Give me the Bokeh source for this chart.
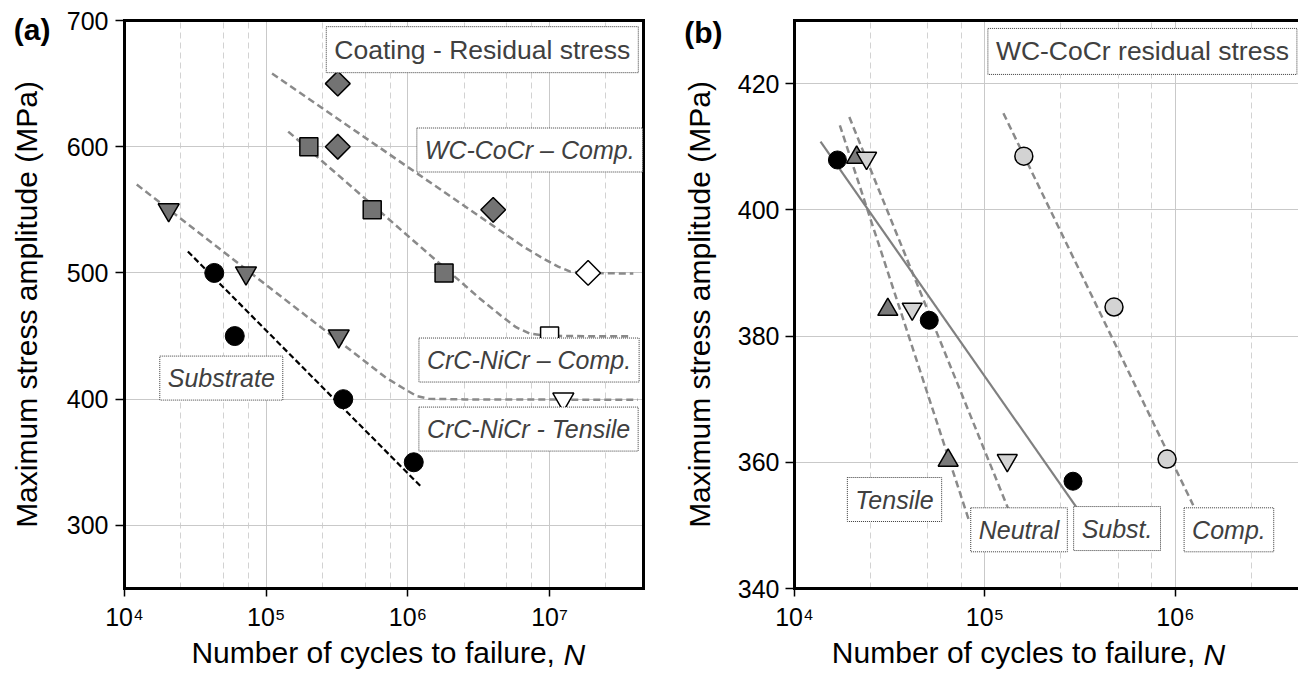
import math
from bokeh.plotting import figure
from bokeh.models import LinearAxis, FixedTicker, Label, Range1d
from bokeh.layouts import row
from bokeh.embed import file_html
from bokeh.resources import INLINE

# ---------------- panel (a) data ----------------
a_x_ticks = [1e4, 1e5, 1e6, 1e7]
a_x_tick_labels = ["10⁴", "10⁵", "10⁶", "10⁷"]
a_y_ticks = [300, 400, 500, 600, 700]
a_minor_grid = [2.5e4, 5e4, 7.5e4, 2.5e5, 5e5, 7.5e5, 2.5e6, 5e6, 7.5e6, 2.5e7]

a_sub_N = [4.3e4, 6.0e4, 3.5e5, 1.1e6]
a_sub_S = [500, 450, 400, 350]
a_sub_fit_N = [2.8e4, 1.23e6]
a_sub_fit_S = [517, 331]

a_tens_N = [2.05e4, 7.2e4, 3.25e5]
a_tens_S = [550, 500, 450]
a_tens_run_N = [1.25e7]
a_tens_run_S = [400]
a_tens_fit_N = [1.22e4, 7.0e5, 9.5e5, 1.15e6, 1.4e6, 2.5e6, 4.2e7]
a_tens_fit_S = [570, 417, 408, 402.5, 400.3, 399.8, 399.5]

a_crc_N = [2.0e5, 5.6e5, 1.8e6]
a_crc_S = [600, 550, 500]
a_crc_run_N = [1.0e7]
a_crc_run_S = [450]
a_crc_fit_N = [1.43e5, 3.2e6, 4.5e6, 5.8e6, 7.2e6, 9.0e6, 1.3e7, 3.8e7]
a_crc_fit_S = [612, 480, 466.5, 457, 452, 450.5, 450, 449.8]

a_wc_N = [3.2e5, 3.2e5, 4.0e6]
a_wc_S = [650, 600, 550]
a_wc_run_N = [1.87e7]
a_wc_run_S = [500]
a_wc_fit_N = [1.1e5, 6.5e6, 9.0e6, 1.15e7, 1.4e7, 1.8e7, 3.9e7]
a_wc_fit_S = [658, 521, 511.5, 505, 501, 500, 499.5]

# ---------------- panel (b) data ----------------
b_x_ticks = [1e4, 1e5, 1e6]
b_x_tick_labels = ["10⁴", "10⁵", "10⁶"]
b_y_ticks = [340, 360, 380, 400, 420]
b_minor_grid = [2.5e4, 5e4, 7.5e4, 2.5e5, 5e5, 7.5e5, 2.5e6]

b_sub_N = [1.68e4, 5.1e4, 2.9e5]
b_sub_S = [407.9, 382.5, 357.0]
b_sub_fit_N = [1.37e4, 3.2e5]
b_sub_fit_S = [410.8, 351.8]

b_tens_N = [2.12e4, 3.09e4, 6.41e4]
b_tens_S = [408.3, 384.2, 360.3]
b_tens_fit_N = [1.73e4, 8.2e4]
b_tens_fit_S = [413.4, 351.0]

b_neut_N = [2.39e4, 4.15e4, 1.31e5]
b_neut_S = [408.2, 384.3, 360.3]
b_neut_fit_N = [1.94e4, 1.36e5]
b_neut_fit_S = [414.7, 351.8]

b_comp_N = [1.6e5, 4.76e5, 9.04e5]
b_comp_S = [408.5, 384.6, 360.5]
b_comp_fit_N = [1.25e5, 1.24e6]
b_comp_fit_S = [415.3, 353.2]

# ---------------- styles ----------------
FONT = "Liberation Sans"
DARK = "#737373"
LIGHT = "#d3d3d3"
FITGRAY = "#8a8a8a"
TXT = "#404040"
XTITLE_MAIN = "Number of cycles to failure,"
XTITLE_VAR = "N"
YTITLE = "Maximum stress amplitude (MPa)"


def bare_axis(**kw):
    base = dict(axis_line_color=None, major_tick_line_color=None, minor_tick_line_color=None,
                major_tick_out=0, major_tick_in=0, minor_tick_out=0, minor_tick_in=0,
                major_label_text_font=FONT, major_label_text_color="black")
    base.update(kw)
    return LinearAxis(**base)


def frame_axis():
    return LinearAxis(ticker=FixedTicker(ticks=[]), axis_line_width=3, axis_line_cap="square",
                      major_tick_out=0, major_tick_in=0, minor_tick_out=0, minor_tick_in=0,
                      major_label_text_font_size="0px")


def make_fig(width, x_end, y0, y1, left, right, ticks_x, labels_x, ticks_y, minor, ylab_standoff):
    p = figure(width=width, height=673, x_axis_type="log",
               x_range=Range1d(1e4, x_end), y_range=Range1d(y0, y1),
               output_backend="svg", toolbar_location=None,
               min_border_left=left, min_border_right=right,
               min_border_top=20, min_border_bottom=85)
    p.outline_line_color = None
    p.background_fill_color = "white"
    p.border_fill_color = "white"
    xa = p.xaxis[0]
    xa.ticker = FixedTicker(ticks=ticks_x)
    xa.major_label_overrides = {t: l for t, l in zip(ticks_x, labels_x)}
    xa.minor_tick_line_color = None
    xa.major_tick_out = 8
    xa.major_tick_in = 0
    xa.major_tick_line_width = 1.5
    xa.axis_line_width = 3
    xa.axis_line_cap = "square"
    xa.major_label_standoff = 6
    xa.major_label_text_font = FONT
    xa.major_label_text_font_size = "25px"
    xa.major_label_text_color = "black"
    ya = p.yaxis[0]
    ya.ticker = FixedTicker(ticks=ticks_y)
    ya.minor_tick_line_color = None
    ya.major_tick_out = 9
    ya.major_tick_in = 0
    ya.major_tick_line_width = 1.5
    ya.axis_line_width = 3
    ya.axis_line_cap = "square"
    ya.major_label_standoff = ylab_standoff
    ya.major_label_text_font = FONT
    ya.major_label_text_font_size = "25px"
    ya.major_label_text_color = "black"
    p.add_layout(frame_axis(), "above")
    p.ygrid.ticker = FixedTicker(ticks=ticks_y)
    p.ygrid.grid_line_color = "#c9c9c9"
    p.ygrid.grid_line_width = 1
    p.xgrid.ticker = FixedTicker(ticks=ticks_x, minor_ticks=minor)
    p.xgrid.grid_line_color = "#c9c9c9"
    p.xgrid.grid_line_width = 1
    p.xgrid.minor_grid_line_color = "#d2d2d2"
    p.xgrid.minor_grid_line_dash = "6 4"
    p.xgrid.minor_grid_line_width = 1
    return p


def outer_texts(p, tag, tag_y, tag_standoff, title_standoff, main_x, var_x):
    # panel tag "(a)"/"(b)" as the one label of an outer left axis that carries the y title
    tag_axis = bare_axis(ticker=FixedTicker(ticks=[tag_y]), major_label_overrides={tag_y: tag},
                         major_label_standoff=tag_standoff, major_label_text_font_size="30px",
                         major_label_text_font_style="bold",
                         axis_label=YTITLE, axis_label_text_font=FONT,
                         axis_label_text_font_size="30px", axis_label_text_font_style="normal",
                         axis_label_text_color="black", axis_label_standoff=title_standoff)
    p.add_layout(tag_axis, "left")
    # x title: upright words, then italic N on the same line
    main_axis = bare_axis(ticker=FixedTicker(ticks=[main_x]), major_label_overrides={main_x: XTITLE_MAIN},
                          major_label_standoff=2, major_label_text_font_size="30px")
    p.add_layout(main_axis, "below")
    var_axis = bare_axis(ticker=FixedTicker(ticks=[var_x]), major_label_overrides={var_x: XTITLE_VAR},
                         major_label_standoff=-34, major_label_text_font_size="30px",
                         major_label_text_font_style="italic")
    p.add_layout(var_axis, "below")


def box_label(p, x, y, text, size, italic=True):
    p.add_layout(Label(x=x, y=y, text=text, text_align="center", text_baseline="middle",
                       text_font=FONT, text_font_size=size,
                       text_font_style="italic" if italic else "normal",
                       text_color=TXT, background_fill_color="white",
                       border_line_color="#3a3a3a", border_line_dash="1 1", border_line_width=1,
                       padding=8))


# ======================= panel (a) =======================
pa = make_fig(660, 4.6e7, 250, 700, 124, 17, a_x_ticks, a_x_tick_labels, a_y_ticks, a_minor_grid, 7)
pa.add_layout(frame_axis(), "right")

pa.line(a_wc_fit_N, a_wc_fit_S, line_color=FITGRAY, line_width=2.5, line_dash="7 4")
pa.line(a_crc_fit_N, a_crc_fit_S, line_color=FITGRAY, line_width=2.5, line_dash="7 4")
pa.line(a_tens_fit_N, a_tens_fit_S, line_color=FITGRAY, line_width=2.5, line_dash="7 4")
pa.line(a_sub_fit_N, a_sub_fit_S, line_color="black", line_width=2.2, line_dash="6 3")

pa.scatter(a_sub_N, a_sub_S, marker="circle", size=19, fill_color="black", line_color="black")
pa.scatter(a_tens_N, a_tens_S, marker="inverted_triangle", size=21, fill_color=DARK,
           line_color="black", line_width=1.5)
pa.scatter(a_tens_run_N, a_tens_run_S, marker="inverted_triangle", size=21, fill_color="white",
           line_color="black", line_width=1.5)
pa.scatter(a_crc_N, a_crc_S, marker="square", size=18, fill_color=DARK,
           line_color="black", line_width=1.5)
pa.scatter(a_crc_run_N, a_crc_run_S, marker="square", size=18, fill_color="white",
           line_color="black", line_width=1.5)
pa.scatter(a_wc_N, a_wc_S, marker="square", angle=math.pi / 4, size=17.5, fill_color=DARK,
           line_color="black", line_width=1.5)
pa.scatter(a_wc_run_N, a_wc_run_S, marker="square", angle=math.pi / 4, size=17.5, fill_color="white",
           line_color="black", line_width=1.5)

box_label(pa, 3.35e6, 676.9, "Coating - Residual stress", "26.5px", italic=False)
box_label(pa, 7.24e6, 597.4, "WC-CoCr – Comp.", "25px")
box_label(pa, 7.16e6, 431.0, "CrC-NiCr – Comp.", "25px")
box_label(pa, 7.1e6, 376.3, "CrC-NiCr - Tensile", "25px")
box_label(pa, 4.82e4, 416.7, "Substrate", "25px")

outer_texts(pa, "(a)", 692.9, 13, -32, 5.69e5, 1.496e7)

# ======================= panel (b) =======================
pb = make_fig(638, 4.43e6, 340, 430, 134, 0, b_x_ticks, b_x_tick_labels, b_y_ticks, b_minor_grid, 6)

pb.line(b_tens_fit_N, b_tens_fit_S, line_color=FITGRAY, line_width=2.5, line_dash="7 4")
pb.line(b_neut_fit_N, b_neut_fit_S, line_color=FITGRAY, line_width=2.5, line_dash="7 4")
pb.line(b_comp_fit_N, b_comp_fit_S, line_color=FITGRAY, line_width=2.5, line_dash="7 4")
pb.line(b_sub_fit_N, b_sub_fit_S, line_color="#808080", line_width=2.2)

pb.scatter(b_sub_N, b_sub_S, marker="circle", size=18, fill_color="black", line_color="black")
pb.scatter(b_tens_N, b_tens_S, marker="triangle", size=20, fill_color="#7a7a7a",
           line_color="black", line_width=1.5)
pb.scatter(b_neut_N, b_neut_S, marker="inverted_triangle", size=20, fill_color=LIGHT,
           line_color="black", line_width=1.5)
pb.scatter(b_comp_N, b_comp_S, marker="circle", size=18, fill_color=LIGHT,
           line_color="black", line_width=1.5)

box_label(pb, 6.71e5, 425.1, "WC-CoCr residual stress", "26.5px", italic=False)
box_label(pb, 3.35e4, 354.1, "Tensile", "25px")
box_label(pb, 1.51e5, 349.3, "Neutral", "25px")
box_label(pb, 4.94e5, 349.5, "Subst.", "25px")
box_label(pb, 1.91e6, 349.3, "Comp.", "25px")

outer_texts(pb, "(b)", 428.1, 12, -35, 1.414e5, 1.603e6)

layout = row(pa, pb)
open("out.html", "w").write(file_html(layout, INLINE))
